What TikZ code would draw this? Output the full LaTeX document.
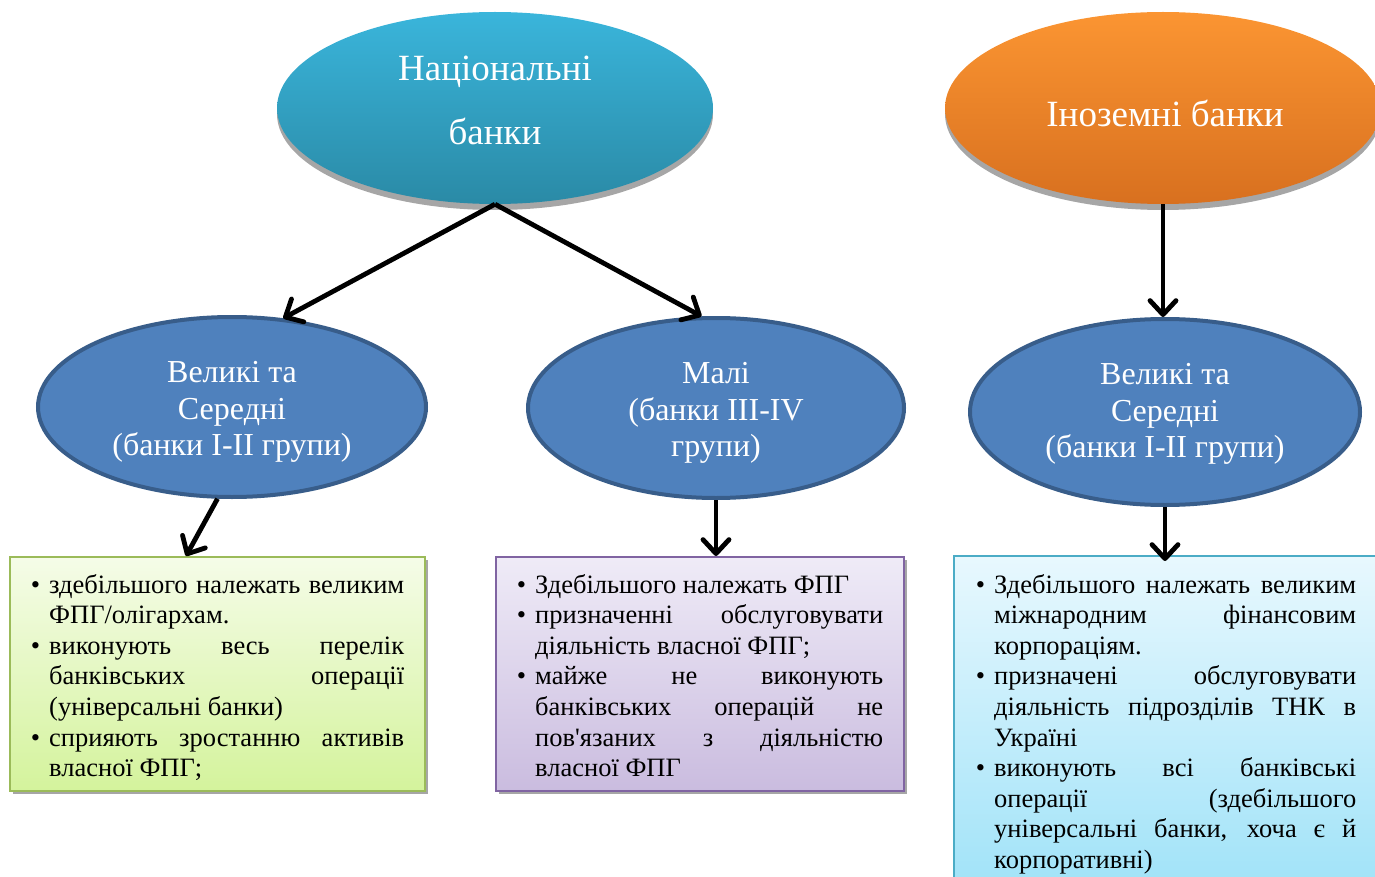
\documentclass[tikz,border=0pt]{standalone}
\usepackage{fontspec}
\setmainfont{Liberation Serif}[Ligatures=TeXOff]
\usetikzlibrary{shapes.geometric,arrows.meta,shadows}
\definecolor{natT}{HTML}{3AB5DB}
\definecolor{natB}{HTML}{2A8AA6}
\definecolor{forT}{HTML}{FB9532}
\definecolor{forB}{HTML}{D8701F}
\definecolor{midfill}{HTML}{4F81BD}
\definecolor{midline}{HTML}{385D8A}
\definecolor{grT}{HTML}{F5FCE8}
\definecolor{grB}{HTML}{D4F39C}
\definecolor{grL}{HTML}{9BBB59}
\definecolor{puT}{HTML}{EFEBF7}
\definecolor{puB}{HTML}{CABCDF}
\definecolor{puL}{HTML}{8064A2}
\definecolor{blT}{HTML}{E8F8FE}
\definecolor{blB}{HTML}{9EE2F8}
\definecolor{blL}{HTML}{4BACC6}
\newcommand\bxfont{\fontsize{26.5pt}{30.6pt}\selectfont}
\newcommand\jline[1]{\makebox[\linewidth][s]{#1}\\}
\newcommand\bul{\leavevmode\llap{•\hspace{9pt}}}
\tikzset{
  topell/.style={ellipse, inner sep=0pt, draw=none,
    drop shadow={shadow xshift=0pt, shadow yshift=-6pt, fill=black!35, opacity=1}},
  midell/.style={ellipse, inner sep=0pt, fill=midfill, draw=midline, line width=4pt},
  elltext/.style={text=white, align=center, inner sep=0pt},
  midtext/.style={elltext, font=\fontsize{32pt}{36.5pt}\selectfont},
  infobox/.style={rectangle, inner sep=0pt, line width=2pt,
    drop shadow={shadow xshift=3pt, shadow yshift=-3pt, fill=black!35, opacity=1}},
  arr/.style={line width=4.8pt, -{Straight Barb[round, length=14pt, width=26pt]}},
  boxtext/.style={inner sep=0pt, anchor=base west, text=black},
}
\begin{document}
\begin{tikzpicture}[x=1pt,y=-1pt]
\useasboundingbox (0,0) rectangle (1375,877);
\clip (0,0) rectangle (1375,877);
% top ellipses
\node[topell, top color=natT, bottom color=natB, minimum width=436pt, minimum height=192pt] (nat) at (495,108) {};
\node[elltext, font=\fontsize{37pt}{64pt}\selectfont] (natL) at (495,100) {Національні\\банки};
\node[topell, top color=forT, bottom color=forB, minimum width=436pt, minimum height=192pt] (for) at (1163,108) {};
\node[elltext, font=\fontsize{37pt}{43pt}\selectfont] (forL) at (1165,113) {Іноземні банки};
% middle ellipses
\node[midell, minimum width=388pt, minimum height=180pt] (ls) at (232,407) {};
\node[midtext] (lsL) at (232,412) {Великі та\\Середні\\(банки І-ІІ групи)};
\node[midell, minimum width=376pt, minimum height=180pt] (mal) at (716,408) {};
\node[midtext] (malL) at (716,413) {Малі\\(банки ІІІ-IV\\групи)};
\node[midell, minimum width=390pt, minimum height=186pt] (rf) at (1165,412) {};
\node[midtext] (rfL) at (1165,414) {Великі та\\Середні\\(банки І-ІІ групи)};
% boxes
\node[infobox, top color=grT, bottom color=grB, draw=grL, minimum width=415pt, minimum height=234pt] (gb) at (217.5,674) {};
\node[infobox, top color=puT, bottom color=puB, draw=puL, minimum width=408pt, minimum height=234pt] (pb) at (700,674) {};
\node[infobox, top color=blT, bottom color=blB, draw=blL, minimum width=431pt, minimum height=344pt] (bb) at (1169.5,728) {};
% box texts
\node[boxtext] (gt) at (49,593) {\parbox[t]{355pt}{\bxfont
\jline{\bul здебільшого належать великим}
ФПГ/олігархам.\\
\jline{\bul виконують весь перелік}
\jline{банківських операції}
(універсальні банки)\\
\jline{\bul сприяють зростанню активів}
власної ФПГ;}};
\node[boxtext] (pt) at (535,593) {\parbox[t]{348pt}{\bxfont
\bul Здебільшого належать ФПГ\\
\jline{\bul призначенні обслуговувати}
діяльність власної ФПГ;\\
\jline{\bul майже не виконують}
\jline{банківських операцій не}
\jline{пов'язаних з діяльністю}
власної ФПГ}};
\node[boxtext] (bt) at (994,593) {\parbox[t]{362pt}{\bxfont
\jline{\bul Здебільшого належать великим}
\jline{міжнародним фінансовим}
корпораціям.\\
\jline{\bul призначені обслуговувати}
\jline{діяльність підрозділів ТНК в}
Україні\\
\jline{\bul виконують всі банківські}
\jline{операції (здебільшого}
\jline{універсальні банки, хоча є й}
корпоративні)}};
% connectors
\coordinate (gin) at (186,556);
\draw[arr] (nat.south) -- (ls.60);
\draw[arr] (nat.south) -- (mal.99);
\draw[arr] (for.south) -- (for.south |- rf.north);
\draw[arr] (ls.261) -- (gin);
\draw[arr] (mal.south) -- (mal.south |- pb.north);
\draw[arr] (rf.south) -- ([yshift=-6pt]rf.south |- bb.north);
\end{tikzpicture}
\end{document}
